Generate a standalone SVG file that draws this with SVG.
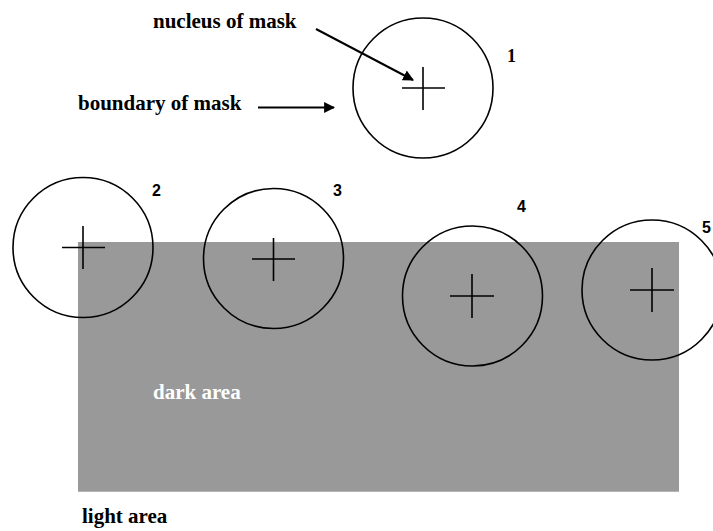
<svg xmlns="http://www.w3.org/2000/svg" width="713" height="531" viewBox="0 0 713 531">
<style>
.mask{fill:none;stroke:#000;stroke-width:1.6}
.cross{stroke:#000;stroke-width:1.6}
.lbl{font-family:"Liberation Serif",serif;font-weight:bold;font-size:21px;fill:#000}
.num{font-family:"Liberation Sans",sans-serif;font-weight:bold;font-size:16px;fill:#000}
.conn{stroke:#000;stroke-width:2;fill:none}
</style>
<defs>
<marker id="ah" viewBox="0 0 10 10" refX="9" refY="5" markerWidth="5.5" markerHeight="5.5" orient="auto" markerUnits="strokeWidth">
<path d="M0,0 L10,5 L0,10 z" fill="#000"/>
</marker>
</defs>
<g id="dark-area">
<rect x="78" y="242" width="601" height="250" fill="#999999"/>
<line x1="78" y1="491.5" x2="679" y2="491.5" stroke="#b4b4b4" stroke-width="1"/>
<text x="153" y="399" class="lbl" style="fill:#fff">dark area</text>
</g>
<g id="light-area">
<text x="82" y="523" class="lbl">light area</text>
</g>
<g id="mask1">
<circle cx="423" cy="88" r="70" class="mask"/>
<line x1="402" y1="88" x2="445" y2="88" class="cross"/>
<line x1="423" y1="67" x2="423" y2="110" class="cross"/>
<text x="507" y="62" class="num" style="font-family:'Liberation Serif',serif;font-size:18px">1</text>
</g>
<g id="mask2">
<circle cx="83" cy="247.5" r="70" class="mask"/>
<line x1="62" y1="247.5" x2="105" y2="247.5" class="cross"/>
<line x1="83" y1="226" x2="83" y2="269" class="cross"/>
<text x="152" y="196" class="num">2</text>
</g>
<g id="mask3">
<circle cx="273.5" cy="258.5" r="70" class="mask"/>
<line x1="252" y1="259" x2="295" y2="259" class="cross"/>
<line x1="273.5" y1="238" x2="273.5" y2="281" class="cross"/>
<text x="333" y="196" class="num">3</text>
</g>
<g id="mask4">
<circle cx="472.5" cy="296" r="70" class="mask"/>
<line x1="450" y1="296" x2="494" y2="296" class="cross"/>
<line x1="472" y1="274" x2="472" y2="318" class="cross"/>
<text x="517" y="212" class="num">4</text>
</g>
<g id="mask5">
<circle cx="652" cy="290" r="70" class="mask"/>
<line x1="630" y1="290" x2="674" y2="290" class="cross"/>
<line x1="652" y1="268" x2="652" y2="312" class="cross"/>
<text x="702" y="233" class="num">5</text>
</g>
<g id="label-nucleus">
<text x="153" y="28" class="lbl">nucleus of mask</text>
</g>
<g id="label-boundary">
<text x="78" y="110" class="lbl">boundary of mask</text>
</g>
<g id="connectors">
<line x1="316" y1="29" x2="413" y2="80" class="conn" marker-end="url(#ah)"/>
<line x1="258" y1="107.5" x2="334" y2="107.5" class="conn" marker-end="url(#ah)"/>
</g>
</svg>
